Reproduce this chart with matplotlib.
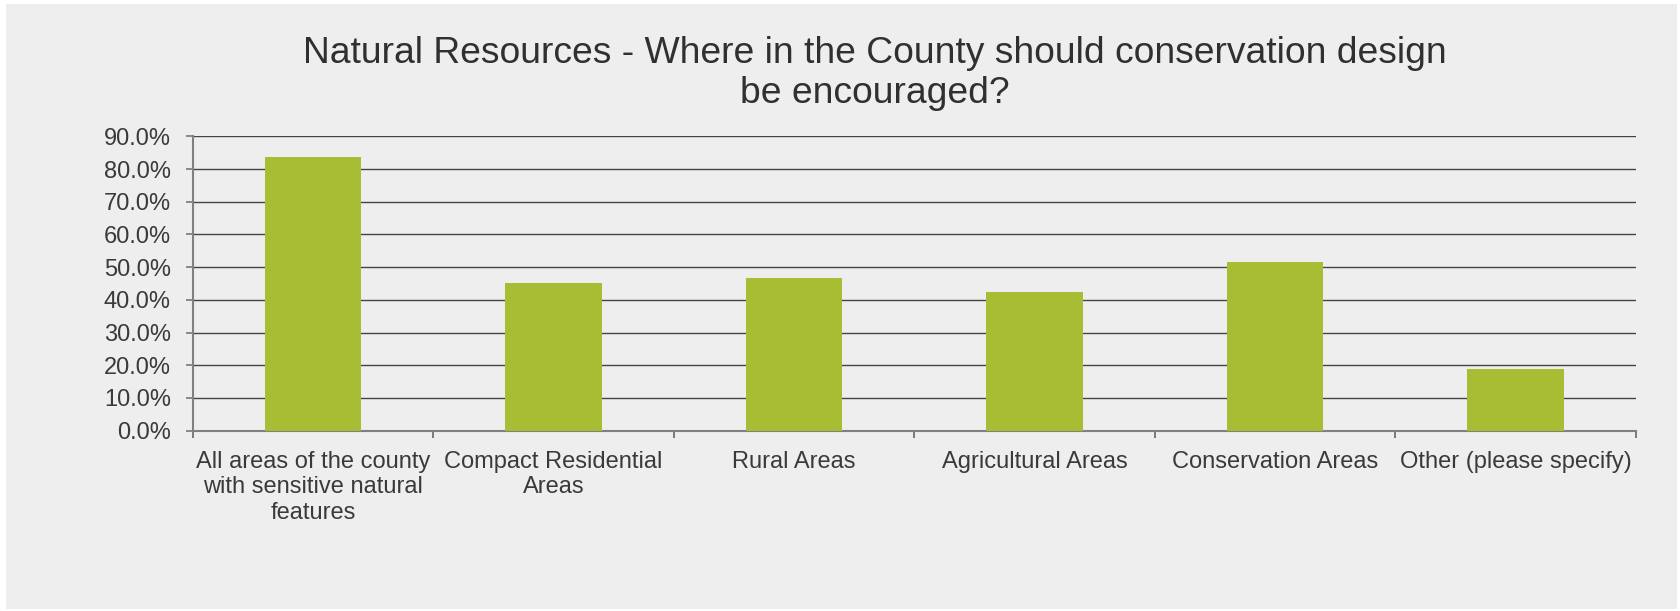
import numpy as np
from matplotlib import pyplot as plt
from matplotlib.patches import Rectangle
from matplotlib.ticker import MultipleLocator, FuncFormatter

categories = ['All areas of the county\nwith sensitive natural\nfeatures',
              'Compact Residential\nAreas',
              'Rural Areas',
              'Agricultural Areas',
              'Conservation Areas',
              'Other (please specify)']
percent = [83.6, 45.1, 46.7, 42.4, 51.5, 19.0]

title = ('Natural Resources - Where in the County should conservation design\n'
         'be encouraged?')

plt.rcParams['font.family'] = ['Liberation Sans', 'DejaVu Sans']

fig = plt.figure(figsize=(16.81, 6.11), dpi=100)
fig.patch.set_facecolor('white')
# grey panel behind the chart (thin white border round it)
fig.patches.append(Rectangle((6 / 1681, 2 / 611), 1671 / 1681, 605 / 611,
                             transform=fig.transFigure, facecolor='#eeeeee',
                             edgecolor='none', zorder=-10))

ax = fig.add_axes([0.1146, 0.2951, 0.8585, 0.4818])
ax.set_facecolor('none')

x = np.arange(len(categories))
ax.bar(x, percent, width=0.4, color='#a8bc34', zorder=3)

ax.set_xlim(-0.5, len(categories) - 0.5)
ax.set_ylim(0, 90)
ax.yaxis.set_major_locator(MultipleLocator(10))
ax.yaxis.set_major_formatter(FuncFormatter(lambda v, p: f'{v:.1f}%'))

# category labels centred, ticks on category boundaries
ax.set_xticks(x)
ax.set_xticklabels(categories, fontsize=17, color='#3a3a3a')
ax.tick_params(axis='x', which='major', length=0, pad=14.5)
ax.set_xticks(np.arange(len(categories) + 1) - 0.5, minor=True)
ax.tick_params(axis='x', which='minor', length=5, width=1.2, color='#666666',
               direction='out')

ax.tick_params(axis='y', length=4.7, width=1.2, color='#777777', pad=11,
               labelsize=17, labelcolor='#3a3a3a')

ax.grid(axis='y', color='#444444', linewidth=1.0)
ax.set_axisbelow(True)

for side in ['top', 'right']:
    ax.spines[side].set_visible(False)
for side in ['left', 'bottom']:
    ax.spines[side].set_color('#808080')
    ax.spines[side].set_linewidth(1.5)

fig.text(0.5205, 0.941, title, ha='center', va='top', fontsize=26.8,
         color='#303030', linespacing=1.2)

fig.savefig('out.png', dpi=100, facecolor=fig.get_facecolor())
